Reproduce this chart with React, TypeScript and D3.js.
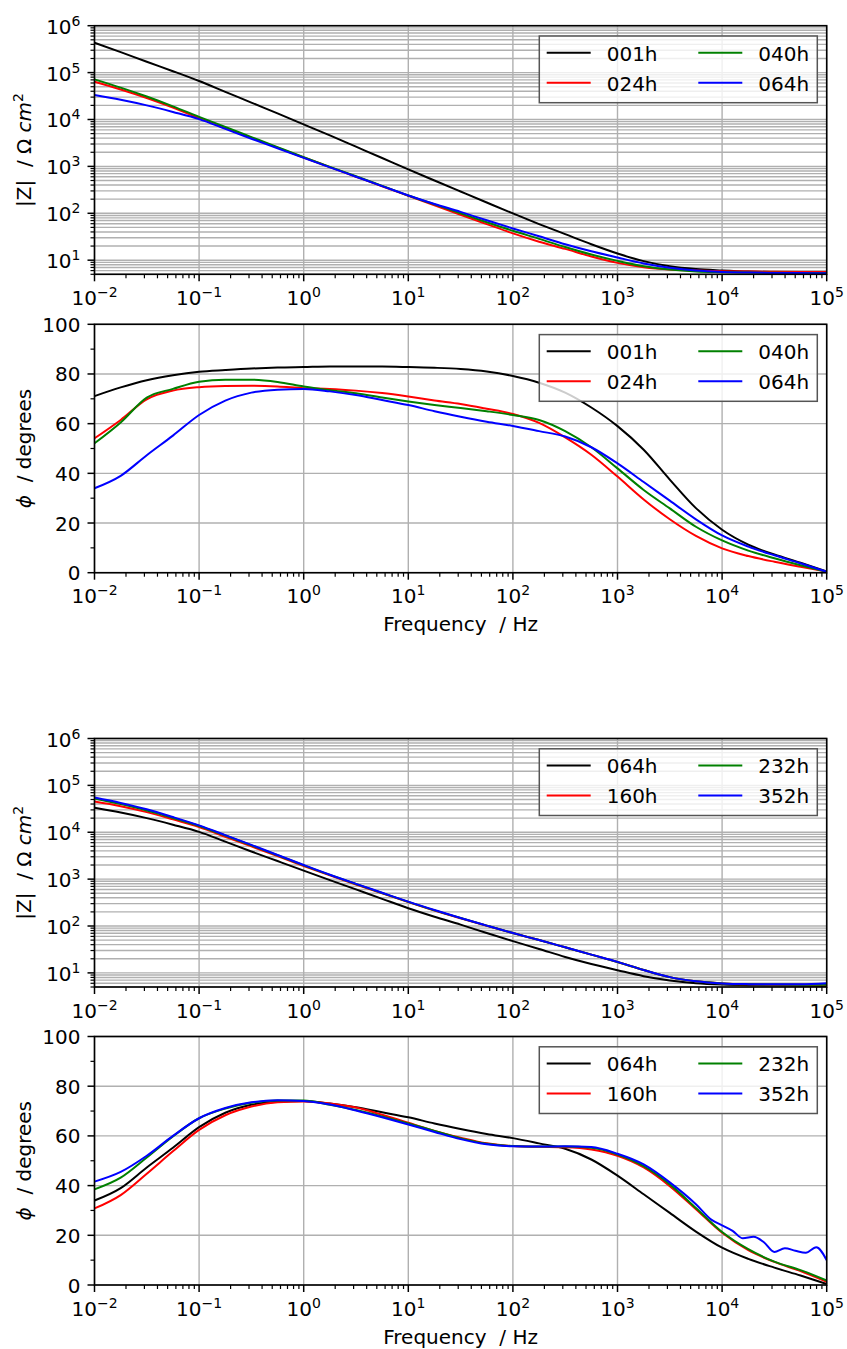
import React from "react";
import * as d3 from "d3";

// ---------- data ----------
const FREQ = [
  0.01, 0.0178, 0.0316, 0.0562, 0.1, 0.178, 0.316, 0.562, 1, 1.78, 3.16, 5.62,
  10, 17.8, 31.6, 56.2, 100, 178, 316, 562, 1000, 1780, 3160, 5620, 10000,
  17800, 31600, 56200, 100000,
];

// |Z| in ohm cm^2
const Z_001 = [4.34e5, 2.74e5, 1.7e5, 1.07e5, 6.61e4, 3.89e4, 2.29e4, 1.35e4, 7.87e3, 4.57e3, 2.63e3, 1.51e3, 863, 501, 292, 170, 99.3, 58.9, 35.9, 21.9, 13.9, 9.55, 7.41, 6.46, 6.03, 5.72, 5.58, 5.5, 5.45];
const Z_024 = [6.38e4, 4.37e4, 2.88e4, 1.8e4, 1.07e4, 6.61e3, 4.07e3, 2.51e3, 1.55e3, 966, 603, 376, 236, 148, 93.3, 58.9, 37.2, 24.8, 17.4, 12.0, 8.77, 7.08, 6.31, 6.03, 5.82, 5.73, 5.65, 5.62, 5.6];
const Z_040 = [7.18e4, 4.79e4, 3.09e4, 1.91e4, 1.14e4, 6.92e3, 4.22e3, 2.57e3, 1.57e3, 977, 617, 385, 240, 155, 100, 64.6, 42.3, 28.5, 19.1, 13.2, 9.66, 7.41, 6.31, 5.75, 5.56, 5.43, 5.37, 5.35, 5.31];
const Z_064 = [3.32e4, 2.63e4, 2.0e4, 1.45e4, 1.02e4, 6.31e3, 3.89e3, 2.43e3, 1.52e3, 955, 603, 380, 240, 158, 107, 70.8, 47.5, 32.4, 21.9, 15.5, 11.4, 8.51, 6.92, 6.03, 5.62, 5.43, 5.35, 5.3, 5.25];
const Z_160 = [4.53e4, 3.6e4, 2.69e4, 1.88e4, 1.29e4, 8.04e3, 5.01e3, 3.09e3, 1.91e3, 1.2e3, 767, 501, 324, 214, 146, 101, 70.8, 50.1, 35.1, 24.5, 17.0, 11.5, 8.13, 6.61, 5.96, 5.69, 5.6, 5.56, 5.52];
const Z_232 = [5.25e4, 3.98e4, 2.92e4, 2.02e4, 1.36e4, 8.51e3, 5.25e3, 3.24e3, 1.97e3, 1.23e3, 785, 507, 327, 216, 148, 102, 70.8, 50.1, 35.1, 24.5, 17.0, 11.5, 8.13, 6.61, 5.96, 5.71, 5.62, 5.58, 5.56];
const Z_352 = [5.52e4, 4.22e4, 3.09e4, 2.11e4, 1.4e4, 8.71e3, 5.37e3, 3.27e3, 2.0e3, 1.24e3, 794, 513, 331, 219, 148, 102, 70.8, 50.1, 35.1, 24.5, 17.2, 11.5, 8.13, 6.61, 5.96, 5.75, 5.69, 5.73, 6.03];

// phase in degrees
const PHASE_001 = [71.1, 74.6, 77.5, 79.5, 80.9, 81.6, 82.2, 82.6, 82.8, 83.0, 83.0, 83.0, 82.8, 82.5, 82.0, 81.0, 79.2, 76.5, 72.5, 66.5, 59.0, 49.5, 37.5, 26.0, 17.3, 11.3, 7.3, 4.0, 0.5];
const PHASE_024 = [54.1, 61.5, 69.8, 73.3, 74.7, 75.2, 75.3, 75.0, 74.3, 74.0, 73.3, 72.3, 70.9, 69.3, 67.9, 66.0, 63.9, 60.3, 54.5, 47.5, 38.7, 29.5, 21.5, 14.8, 9.8, 6.7, 4.4, 2.4, 0.5];
const PHASE_040 = [52.1, 60.5, 70.5, 74.0, 76.9, 77.7, 77.7, 76.8, 75.0, 73.5, 72.2, 70.5, 68.9, 67.5, 66.3, 65.0, 63.5, 61.5, 57.0, 50.5, 42.0, 33.3, 25.9, 18.5, 13.0, 8.9, 5.8, 3.0, 0.4];
const PHASE_064 = [34.0, 39.0, 47.3, 55.2, 63.5, 69.3, 72.5, 73.7, 74.0, 73.0, 71.5, 69.5, 67.5, 65.0, 62.8, 60.8, 59.1, 57.0, 54.8, 50.5, 44.0, 36.5, 29.0, 21.5, 15.0, 10.5, 7.0, 3.8, 0.4];
const PHASE_160 = [30.8, 36.2, 44.8, 53.8, 62.4, 68.3, 71.8, 73.5, 73.8, 73.0, 71.4, 68.5, 65.3, 62.0, 59.3, 57.0, 55.9, 55.6, 55.4, 54.5, 52.0, 47.3, 39.8, 30.5, 21.0, 14.0, 9.3, 5.6, 1.3];
const PHASE_232 = [38.5, 43.2, 51.3, 59.8, 67.1, 71.0, 73.3, 74.2, 74.2, 72.5, 70.4, 67.8, 65.0, 62.0, 59.0, 56.8, 55.9, 55.7, 55.7, 55.2, 52.5, 47.8, 40.5, 31.0, 21.3, 14.4, 9.4, 6.0, 1.8];

const FREQ_352_PHASE = [
  0.01, 0.0178, 0.0316, 0.0562, 0.1, 0.178, 0.316, 0.562, 1, 1.78, 3.16, 5.62,
  10, 17.8, 31.6, 56.2, 100, 178, 316, 562, 1000, 1780, 3160, 5620,
  7940, 10000, 12600, 15800, 20000, 25100, 31600, 39800, 50100, 63100, 79400, 100000,
];
const PHASE_352 = [41.6, 45.5, 52.0, 60.0, 67.1, 71.2, 73.5, 74.3, 74.0, 72.6, 70.2, 67.5, 64.6, 61.6, 58.7, 56.6, 55.8, 55.7, 55.8, 55.5, 52.8, 48.5, 41.3, 32.5, 26.2, 24.0, 21.8, 18.8, 19.4, 17.2, 13.3, 14.8, 13.8, 13.0, 15.2, 10.0];

const LABELS_TOP = ["001h", "024h", "040h", "064h"];
const LABELS_BOTTOM = ["064h", "160h", "232h", "352h"];
const COLORS = ["#000000", "#ff0000", "#008000", "#0000ff"];

const X_DOMAIN = [1e-2, 1e5];
const Z_DOMAIN = [5, 1e6];
const PHASE_DOMAIN = [0, 100];
const PHASE_MAJOR = [0, 20, 40, 60, 80, 100];
const PHASE_MINOR = [10, 30, 50, 70, 90];

// ---------- layout ----------
const W = 847;
const H = 1349;
const LEFT = 94.5;
const RIGHT = 826.7;
const FONT = "DejaVu Sans, sans-serif";
const FS = 20;
const GRID = "#b0b0b0";

type Series = { label: string; color: string; freq: number[]; values: number[] };

const SUP_MINUS = (e: number) => (e < 0 ? "\u2212" + Math.abs(e) : String(e));

function PowLabel({ x, y, exp, anchor }: { x: number; y: number; exp: number; anchor: string }) {
  return (
    <text x={x} y={y} textAnchor={anchor} fontFamily={FONT} fontSize={FS} fill="#000">
      <tspan>10</tspan>
      <tspan dy={-8} fontSize={14}>{SUP_MINUS(exp)}</tspan>
    </text>
  );
}

function Panel({
  id,
  top,
  bottom,
  kind,
  series,
  xlabel,
}: {
  id: string;
  top: number;
  bottom: number;
  kind: "mag" | "phase";
  series: Series[];
  xlabel: boolean;
}) {
  const x = d3.scaleLog().domain(X_DOMAIN).range([LEFT, RIGHT]);
  const y: any =
    kind === "mag"
      ? d3.scaleLog().domain(Z_DOMAIN).range([bottom, top])
      : d3.scaleLinear().domain(PHASE_DOMAIN).range([bottom, top]);

  const xTicks = x.ticks();
  const isMajor = (v: number) => Math.abs(Math.log10(v) - Math.round(Math.log10(v))) < 1e-9;
  const xMajor = xTicks.filter(isMajor);
  const xMinor = xTicks.filter((v) => !isMajor(v));

  let yMajor: number[];
  let yMinor: number[];
  if (kind === "mag") {
    const t = y.ticks();
    yMajor = t.filter(isMajor);
    yMinor = t.filter((v: number) => !isMajor(v));
  } else {
    yMajor = PHASE_MAJOR;
    yMinor = PHASE_MINOR;
  }

  const line = d3
    .line<[number, number]>()
    .x((d) => x(d[0]))
    .y((d) => y(d[1]))
    .curve(d3.curveMonotoneX);

  // legend geometry
  const lgW = 278;
  const lgH = 66.7;
  const lgX = RIGHT - 9.4 - lgW;
  const lgY = top + 10.3;
  const rows = [16.7, 46.7];
  const cols = [7.4, 159];

  const cy = (top + bottom) / 2;

  return (
    <g>
      <defs>
        <clipPath id={id}>
          <rect x={LEFT} y={top} width={RIGHT - LEFT} height={bottom - top} />
        </clipPath>
      </defs>
      {/* grid */}
      {kind === "mag" &&
        yMinor.map((v) => (
          <line key={"ym" + v} x1={LEFT} x2={RIGHT} y1={y(v)} y2={y(v)} stroke={GRID} strokeWidth={1.4} />
        ))}
      {yMajor.map((v) => (
        <line key={"yg" + v} x1={LEFT} x2={RIGHT} y1={y(v)} y2={y(v)} stroke={GRID} strokeWidth={1.4} />
      ))}
      {xMajor.map((v) => (
        <line key={"xg" + v} x1={x(v)} x2={x(v)} y1={top} y2={bottom} stroke={GRID} strokeWidth={1.4} />
      ))}
      {/* data */}
      <g clipPath={`url(#${id})`}>
        {series.map((s) => (
          <path
            key={s.label}
            d={line(s.freq.map((f, i) => [f, s.values[i]] as [number, number])) || ""}
            fill="none"
            stroke={s.color}
            strokeWidth={2}
            strokeLinejoin="round"
          />
        ))}
      </g>
      {/* spines */}
      <rect x={LEFT} y={top} width={RIGHT - LEFT} height={bottom - top} fill="none" stroke="#000" strokeWidth={1.6} />
      {/* x ticks */}
      {xMajor.map((v) => (
        <line key={"xt" + v} x1={x(v)} x2={x(v)} y1={bottom} y2={bottom + 7} stroke="#000" strokeWidth={1.5} />
      ))}
      {xMinor.map((v) => (
        <line key={"xn" + v} x1={x(v)} x2={x(v)} y1={bottom} y2={bottom + 4} stroke="#000" strokeWidth={1.2} />
      ))}
      {xMajor.map((v) => (
        <PowLabel key={"xl" + v} x={x(v)} y={bottom + 30.5} exp={Math.round(Math.log10(v))} anchor="middle" />
      ))}
      {/* y ticks */}
      {yMajor.map((v) => (
        <line key={"yt" + v} x1={LEFT - 7} x2={LEFT} y1={y(v)} y2={y(v)} stroke="#000" strokeWidth={1.5} />
      ))}
      {yMinor.map((v) => (
        <line key={"yn" + v} x1={LEFT - 4} x2={LEFT} y1={y(v)} y2={y(v)} stroke="#000" strokeWidth={1.2} />
      ))}
      {kind === "mag"
        ? yMajor.map((v) => (
            <PowLabel key={"yl" + v} x={80.5} y={y(v) + 8} exp={Math.round(Math.log10(v))} anchor="end" />
          ))
        : yMajor.map((v) => (
            <text key={"yl" + v} x={80.5} y={y(v) + 7.5} textAnchor="end" fontFamily={FONT} fontSize={FS}>
              {v}
            </text>
          ))}
      {/* y label */}
      <text
        transform={`translate(31,${cy}) rotate(-90)`}
        textAnchor="middle"
        fontFamily={FONT}
        fontSize={FS}
      >
        {kind === "mag" ? (
          <>
            <tspan>{"|Z|\u00a0\u00a0/ \u03a9 "}</tspan>
            <tspan fontStyle="italic">cm</tspan>
            <tspan dy={-8} fontSize={14}>2</tspan>
          </>
        ) : (
          <>
            <tspan fontStyle="italic">{"\u03d5"}</tspan>
            <tspan>{"\u00a0\u00a0/ degrees"}</tspan>
          </>
        )}
      </text>
      {xlabel && (
        <text x={(LEFT + RIGHT) / 2} y={bottom + 58.5} textAnchor="middle" fontFamily={FONT} fontSize={FS}>
          {"Frequency\u00a0\u00a0/ Hz"}
        </text>
      )}
      {/* legend */}
      <g>
        <rect x={lgX} y={lgY} width={lgW} height={lgH} fill="#ffffff" fillOpacity={0.8} stroke="#555555" strokeWidth={1.5} />
        {series.map((s, i) => {
          const c = Math.floor(i / 2);
          const r = i % 2;
          const ly = lgY + rows[r];
          const lx = lgX + cols[c];
          return (
            <g key={"lg" + s.label}>
              <line x1={lx} x2={lx + 44} y1={ly} y2={ly} stroke={s.color} strokeWidth={2} />
              <text x={lx + 60} y={ly + 7.8} fontFamily={FONT} fontSize={FS}>
                {s.label}
              </text>
            </g>
          );
        })}
      </g>
    </g>
  );
}

export default function App() {
  const topMag: Series[] = [Z_001, Z_024, Z_040, Z_064].map((v, i) => ({
    label: LABELS_TOP[i],
    color: COLORS[i],
    freq: FREQ,
    values: v,
  }));
  const topPhase: Series[] = [PHASE_001, PHASE_024, PHASE_040, PHASE_064].map((v, i) => ({
    label: LABELS_TOP[i],
    color: COLORS[i],
    freq: FREQ,
    values: v,
  }));
  const botMag: Series[] = [Z_064, Z_160, Z_232, Z_352].map((v, i) => ({
    label: LABELS_BOTTOM[i],
    color: COLORS[i],
    freq: FREQ,
    values: v,
  }));
  const botPhase: Series[] = [PHASE_064, PHASE_160, PHASE_232, PHASE_352].map((v, i) => ({
    label: LABELS_BOTTOM[i],
    color: COLORS[i],
    freq: i === 3 ? FREQ_352_PHASE : FREQ,
    values: v,
  }));

  return (
    <svg
      width={W}
      height={H}
      viewBox={`0 0 ${W} ${H}`}
      style={{ position: "absolute", left: 0, top: 0, background: "#fff" }}
    >
      <rect width={W} height={H} fill="#fff" />
      <Panel id="c1" top={25.7} bottom={274.3} kind="mag" series={topMag} xlabel={false} />
      <Panel id="c2" top={324.3} bottom={572.7} kind="phase" series={topPhase} xlabel={true} />
      <Panel id="c3" top={738.5} bottom={987} kind="mag" series={botMag} xlabel={false} />
      <Panel id="c4" top={1036.5} bottom={1285} kind="phase" series={botPhase} xlabel={true} />
    </svg>
  );
}
